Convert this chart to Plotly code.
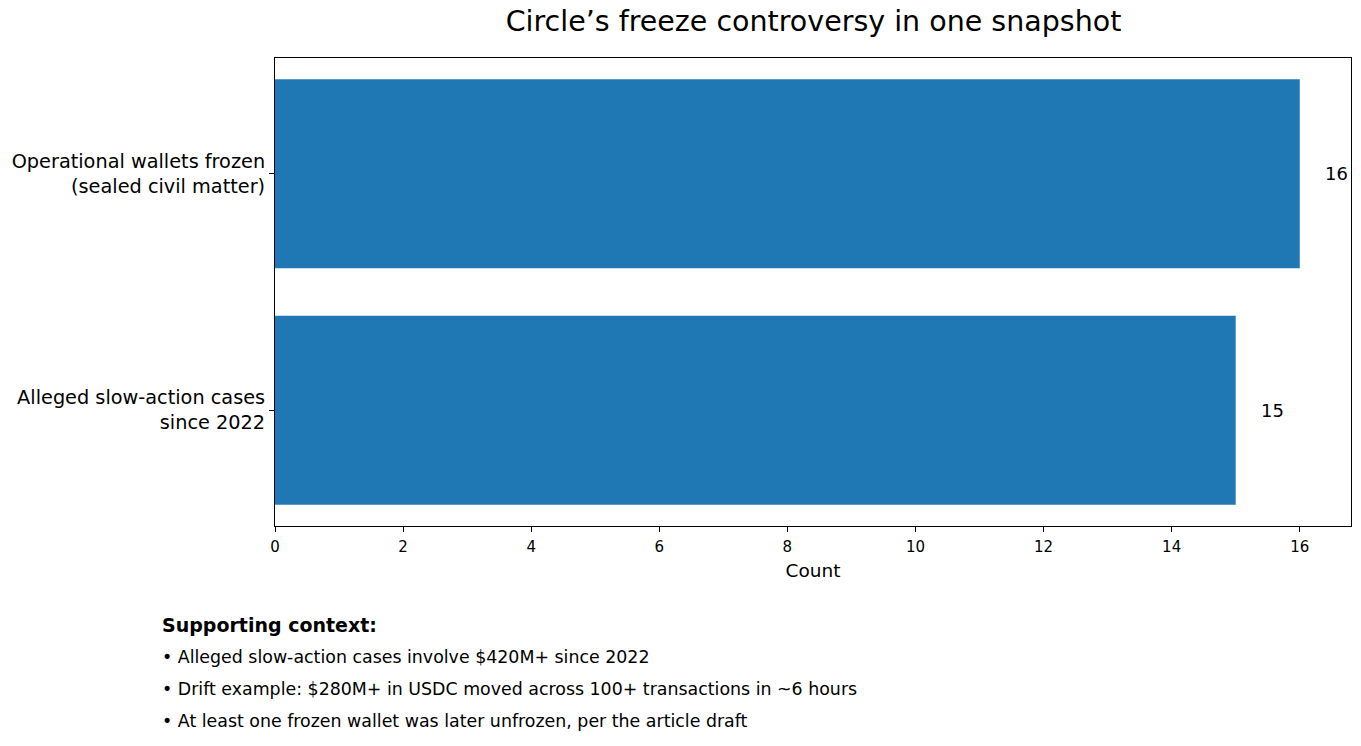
import plotly.graph_objects as go

categories = ["Alleged slow-action cases<br>since 2022", "Operational wallets frozen<br>(sealed civil matter)"]
counts = [15, 16]
x_ticks = [0, 2, 4, 6, 8, 10, 12, 14, 16]
context_title = "Supporting context:"
context_lines = [
    "• Alleged slow-action cases involve $420M+ since 2022",
    "• Drift example: $280M+ in USDC moved across 100+ transactions in ~6 hours",
    "• At least one frozen wallet was later unfrozen, per the article draft",
]

font = "DejaVu Sans"
W, H = 1361, 746
L, R, T, B = 275, 10, 58, 220


def px_to_paper(px, py):
    return (px - L) / (W - L - R), (H - B - py) / (H - T - B)


fig = go.Figure()
fig.add_trace(go.Bar(
    x=counts,
    y=[0, 1],
    orientation="h",
    width=0.8,
    marker_color="#1f77b4",
    marker_line_width=0,
    hoverinfo="none",
))

# value labels to the right of each bar
for i, v in enumerate(counts):
    fig.add_annotation(x=v, y=i, text=str(v), showarrow=False,
                       xanchor="left", xshift=23,
                       font=dict(family=font, size=18, color="black"))

# supporting context block under the chart
px, py = px_to_paper(160, 625)
fig.add_annotation(x=px, y=py, xref="paper", yref="paper", text="<b>" + context_title + "</b>",
                   showarrow=False, xanchor="left", yanchor="middle",
                   font=dict(family=font, size=19, color="black"))
for k, line in enumerate(context_lines):
    px, py = px_to_paper(160, 657 + 32 * k)
    fig.add_annotation(x=px, y=py, xref="paper", yref="paper", text=line, showarrow=False,
                       xanchor="left", yanchor="middle",
                       font=dict(family=font, size=17.4, color="black"))

fig.update_layout(
    width=W, height=H,
    margin=dict(l=L, r=R, t=T, b=B),
    plot_bgcolor="white",
    paper_bgcolor="white",
    showlegend=False,
    title=dict(text="Circle’s freeze controversy in one snapshot", x=(505 + 1122) / 2 / W,
               xanchor="center", y=1 - 21 / H, yanchor="middle",
               font=dict(family=font, size=28.5, color="black")),
    font=dict(family=font, color="black"),
    xaxis=dict(range=[0, 16.8], tickvals=x_ticks, ticks="outside", ticklen=5,
               tickcolor="black", showgrid=False, zeroline=False,
               showline=True, linecolor="black", linewidth=1, mirror=True,
               tickfont=dict(size=15), ticklabelstandoff=2,
               title=dict(text="Count", font=dict(size=18.5), standoff=9)),
    yaxis=dict(range=[-0.49, 1.49], tickvals=[0, 1], ticktext=categories,
               ticks="outside", ticklen=5, tickcolor="black", showgrid=False,
               zeroline=False, showline=True, linecolor="black", linewidth=1,
               mirror=True, tickfont=dict(size=19.3)),
)

fig.write_html("out.html", config={"displayModeBar": False},
               post_script="document.body.style.margin='0';")
